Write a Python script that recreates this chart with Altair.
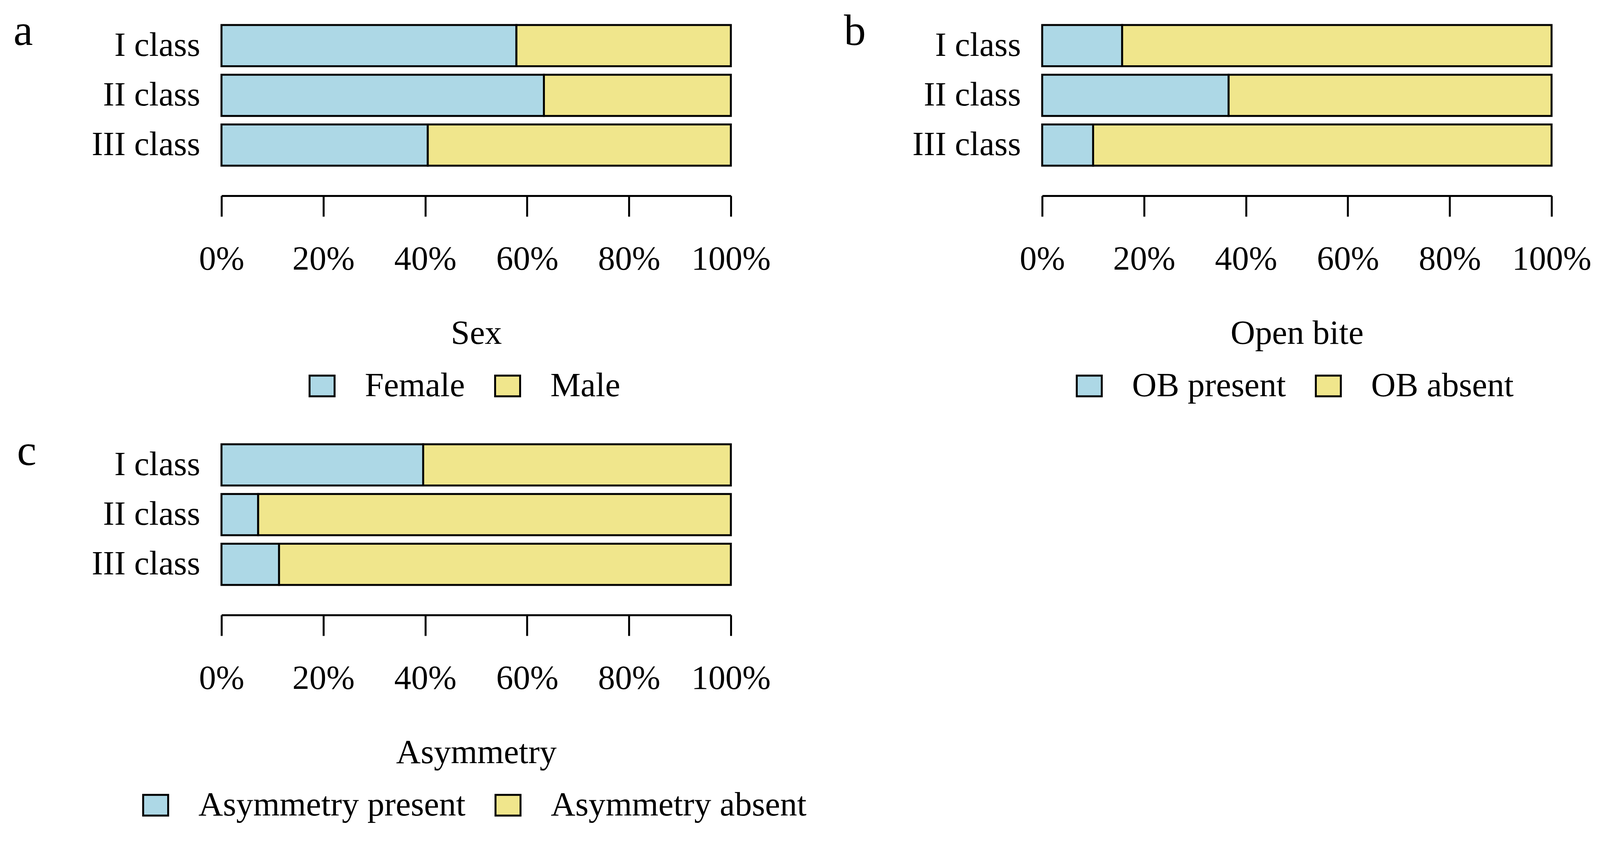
import altair as alt
import pandas as pd

classes = ["I class", "II class", "III class"]

sex_groups = ["Female", "Male"]
sex_female = [57.9, 63.3, 40.5]
sex_male = [42.1, 36.7, 59.5]

ob_groups = ["OB present", "OB absent"]
ob_present = [15.7, 36.6, 10.0]
ob_absent = [84.3, 63.4, 90.0]

asym_groups = ["Asymmetry present", "Asymmetry absent"]
asym_present = [39.6, 7.2, 11.3]
asym_absent = [60.4, 92.8, 88.7]

tick_values = [0, 20, 40, 60, 80, 100]
colors = ["#ADD8E6", "#F0E68C"]

FONT = "Liberation Serif"
FS = 87
LETTER_FS = 112
W = 1304
H = 360


def panel(groups, left_vals, right_vals, title, letter, letter_x, letter_y, leg_x, leg_y):
    rows = []
    for i, c in enumerate(classes):
        rows.append({"cls": c, "grp": groups[0], "val": left_vals[i], "ord": 0})
        rows.append({"cls": c, "grp": groups[1], "val": right_vals[i], "ord": 1})
    df = pd.DataFrame(rows)
    return (
        alt.Chart(df)
        .mark_bar(stroke="black", strokeWidth=5, opacity=1)
        .encode(
            y=alt.Y(
                "cls:N",
                sort=classes,
                scale=alt.Scale(paddingInner=0.17, paddingOuter=0),
                axis=alt.Axis(
                    title=letter,
                    titleAngle=0,
                    titleAlign="left",
                    titleBaseline="alphabetic",
                    titleX=letter_x,
                    titleY=letter_y,
                    titleFontSize=LETTER_FS,
                    titleFontWeight="normal",
                    domain=False,
                    ticks=False,
                    labelPadding=55,
                    labelFontSize=FS,
                    labelLimit=0,
                ),
            ),
            x=alt.X(
                "val:Q",
                stack="zero",
                scale=alt.Scale(domain=[0, 100], nice=False),
                axis=alt.Axis(
                    values=tick_values,
                    labelExpr="datum.value + '%'",
                    offset=77,
                    tickSize=53,
                    tickWidth=5,
                    domainWidth=5,
                    labelPadding=66,
                    labelFontSize=FS,
                    labelFlush=False,
                    labelOverlap=False,
                    labelLimit=0,
                    grid=False,
                    title=title,
                    titleFontSize=FS,
                    titleFontWeight="normal",
                    titleBaseline="alphabetic",
                    titleY=378,
                ),
            ),
            color=alt.Color(
                "grp:N",
                scale=alt.Scale(domain=groups, range=colors),
                legend=alt.Legend(
                    title=None,
                    orient="none",
                    legendX=leg_x,
                    legendY=leg_y,
                    direction="horizontal",
                    symbolType="M-1,-0.83H1V0.83H-1Z",
                    symbolSize=4096,
                    symbolStrokeColor="black",
                    symbolStrokeWidth=5,
                    symbolOpacity=1,
                    labelFontSize=FS,
                    labelOffset=66,
                    columnPadding=65,
                    padding=0,
                    labelLimit=0,
                ),
            ),
            order=alt.Order("ord:Q"),
        )
        .properties(width=W, height=H)
    )


pa = panel(sex_groups, sex_female, sex_male, "Sex", "a", -533, 50, 214, 880)
pb = panel(ob_groups, ob_present, ob_absent, "Open bite", "b", -508, 50, 77, 880)
pc = panel(asym_groups, asym_present, asym_absent, "Asymmetry", "c", -524, 52, -212, 880)

top = alt.hconcat(pa, pb, spacing=187).resolve_scale(color="independent").resolve_legend(color="independent")
chart = (
    alt.vconcat(top, pc, spacing=68)
    .resolve_scale(color="independent")
    .resolve_legend(color="independent")
    .properties(padding={"left": 26, "top": 16, "right": 0, "bottom": 20})
    .configure(font=FONT, background="white")
    .configure_view(stroke=None)
    .configure_axis(
        labelColor="black",
        titleColor="black",
        domainColor="black",
        tickColor="black",
        labelFont=FONT,
        titleFont=FONT,
    )
    .configure_legend(labelColor="black", labelFont=FONT)
)

chart.save("out.html", embed_options={"renderer": "svg", "actions": False})
